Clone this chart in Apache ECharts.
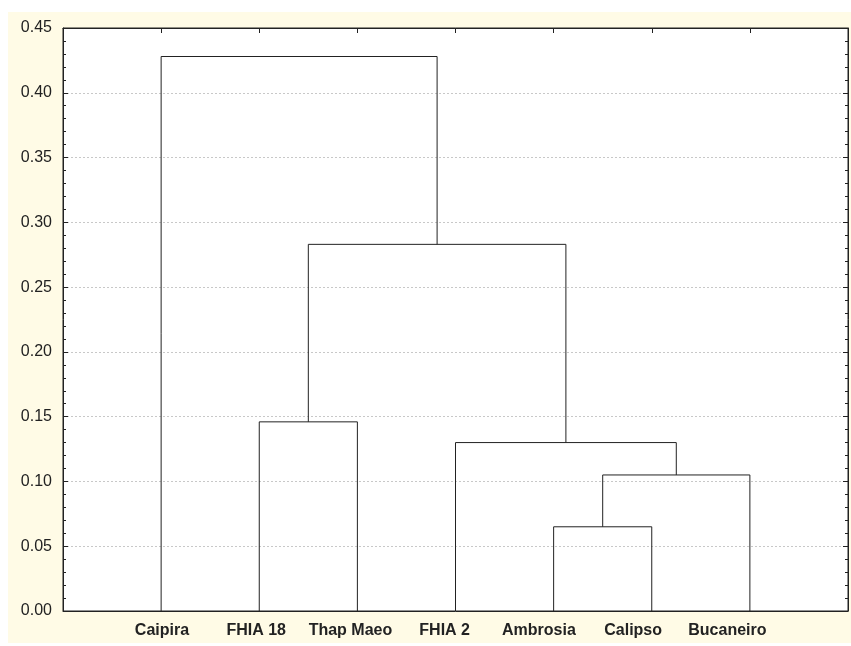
<!DOCTYPE html>
<html>
<head>
<meta charset="utf-8">
<script src="https://cdn.jsdelivr.net/npm/echarts@6/dist/echarts.min.js"></script>
<style>
  html, body { margin: 0; padding: 0; background: #fff; }
  #chart { position: absolute; left: 8px; top: 12px; width: 843px; height: 631px; background: #fffbe6; }
</style>
</head>
<body>
<div id="chart"></div>
<script>
  // leaves in display order
  var leaves = ['Caipira', 'FHIA 18', 'Thap Maeo', 'FHIA 2', 'Ambrosia', 'Calipso', 'Bucaneiro'];
  // merges: children are leaf names or "m<index>" of an earlier merge
  var mergeLeft = ['Ambrosia', 'm0', 'FHIA 2', 'FHIA 18', 'm3', 'Caipira'];
  var mergeRight = ['Calipso', 'Bucaneiro', 'm1', 'Thap Maeo', 'm2', 'm4'];
  var mergeHeight = [0.065, 0.105, 0.130, 0.146, 0.283, 0.428];

  var chart = echarts.init(document.getElementById('chart'));

  var nodePos = {};
  leaves.forEach(function (name, i) {
    nodePos[name] = { x: i + 1, h: 0 };
  });
  var series = [];
  mergeHeight.forEach(function (h, i) {
    var l = nodePos[mergeLeft[i]];
    var r = nodePos[mergeRight[i]];
    nodePos['m' + i] = { x: (l.x + r.x) / 2, h: h };
    series.push({
      type: 'line',
      xAxisIndex: 1,
      data: [[l.x, l.h], [l.x, h], [r.x, h], [r.x, r.h]],
      symbol: 'none',
      silent: true,
      lineStyle: { color: '#222', width: 1 }
    });
  });

  // labels in the original sit a bit tighter than the leaves, so the
  // label axis uses its own range
  var leafValues = leaves.map(function (d, i) { return i + 1; });
  var tickColor = { color: '#222', width: 1 };
  var axisLine = { show: true, onZero: false, lineStyle: { color: '#222', width: 1 } };

  chart.setOption({
    animation: false,
    grid: {
      left: 55, right: 3, top: 16, bottom: 32,
      show: true,
      backgroundColor: '#ffffff',
      borderColor: '#222',
      borderWidth: 1
    },
    xAxis: [
      {
        type: 'value',
        position: 'bottom',
        min: -0.05,
        max: 8.28,
        axisLine: axisLine,
        axisTick: { show: false },
        splitLine: { show: false },
        axisLabel: {
          margin: 12,
          customValues: leafValues,
          fontFamily: 'Liberation Sans, Arial, sans-serif',
          fontSize: 16,
          fontWeight: 'bold',
          color: '#222',
          formatter: function (v) {
            return leaves[Math.round(v) - 1] || '';
          }
        }
      },
      {
        type: 'value',
        position: 'top',
        min: 0,
        max: leaves.length + 1,
        interval: 1,
        axisLine: axisLine,
        axisTick: { show: true, length: -5, lineStyle: tickColor },
        splitLine: { show: false },
        axisLabel: { show: false }
      }
    ],
    yAxis: [
      {
        type: 'value',
        min: 0,
        max: 0.45,
        interval: 0.05,
        axisLine: axisLine,
        axisTick: { show: true, length: -5, lineStyle: tickColor },
        minorTick: { show: true, splitNumber: 5, length: -3, lineStyle: tickColor },
        splitLine: { show: true, lineStyle: { color: '#c8c8c8', type: [2, 2], width: 1 } },
        axisLabel: {
          margin: 11,
          fontFamily: 'Liberation Sans, Arial, sans-serif',
          fontSize: 16,
          color: '#222',
          formatter: function (v) { return v.toFixed(2); }
        }
      },
      {
        type: 'value',
        position: 'right',
        min: 0,
        max: 0.45,
        interval: 0.05,
        axisLine: axisLine,
        axisTick: { show: true, length: -5, lineStyle: tickColor },
        minorTick: { show: true, splitNumber: 5, length: -3, lineStyle: tickColor },
        splitLine: { show: false },
        axisLabel: { show: false }
      }
    ],
    series: series
  });
</script>
</body>
</html>
